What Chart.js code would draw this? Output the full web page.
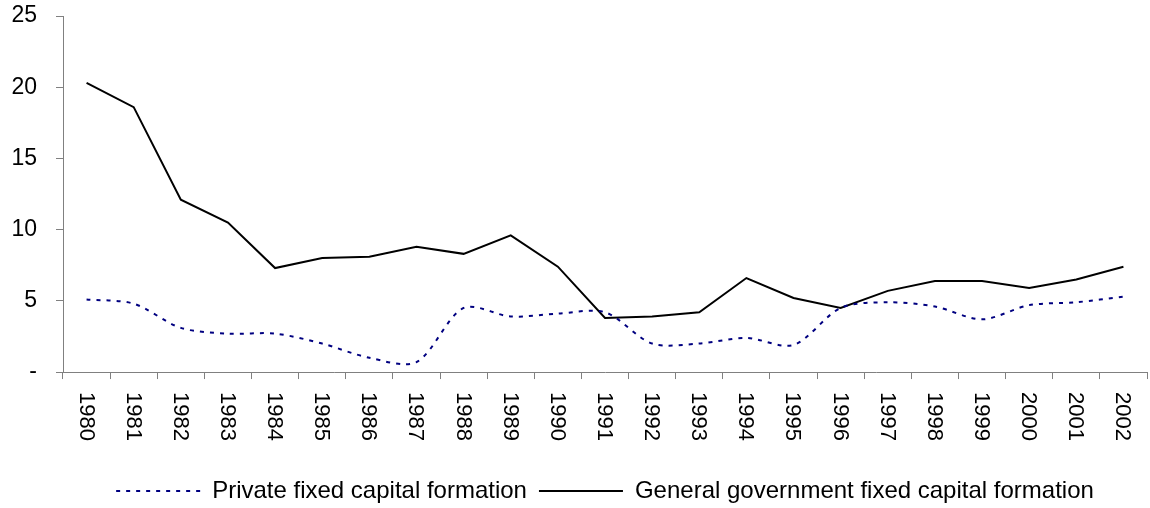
<!DOCTYPE html>
<html>
<head>
<meta charset="utf-8">
<script src="https://cdn.jsdelivr.net/npm/chart.js@4/dist/chart.umd.min.js"></script>
<style>
  html, body { margin: 0; padding: 0; background: #fff; }
  #wrap { width: 1150px; height: 508px; position: relative; }
</style>
</head>
<body>
<div id="wrap"><canvas id="chart"></canvas></div>
<script>
// ── Data ───────────────────────────────────────────────
const years = ['1980', '1981', '1982', '1983', '1984', '1985', '1986', '1987',
  '1988', '1989', '1990', '1991', '1992', '1993', '1994', '1995', '1996',
  '1997', '1998', '1999', '2000', '2001', '2002'];
const privateFcf = [5.1, 4.8, 3.1, 2.7, 2.7, 2.0, 1.0, 0.7, 4.5, 3.9, 4.1, 4.2,
  2.0, 2.0, 2.4, 1.9, 4.5, 4.9, 4.6, 3.7, 4.7, 4.9, 5.3];
const governmentFcf = [20.3, 18.6, 12.1, 10.5, 7.3, 8.0, 8.1, 8.8, 8.3, 9.6, 7.4, 3.8,
  3.9, 4.2, 6.6, 5.2, 4.5, 5.7, 6.4, 6.4, 5.9, 6.5, 7.4];
const yTicks = [0, 5, 10, 15, 20, 25];

// ── Styles ─────────────────────────────────────────────
const _FONT  = "'Liberation Sans', Arial, sans-serif";
const _AXIS  = '#808080';
const _TICK_LEN = 7;

// x labels read top-to-bottom (rotated clockwise), which Chart.js can't do itself
const _xLabelPlugin = {
  id: 'xLabels',
  afterDraw(chart) {
    const xs = chart.scales.x;
    const { ctx } = chart;
    ctx.save();
    ctx.fillStyle = '#000';
    ctx.font = `22px ${_FONT}`;
    ctx.textAlign = 'left';
    ctx.textBaseline = 'middle';
    xs.ticks.forEach((t, i) => {
      const x = xs.getPixelForTick(i);
      ctx.save();
      ctx.translate(x, xs.top + _TICK_LEN + 13);
      ctx.rotate(Math.PI / 2);
      ctx.fillText(xs.getLabelForValue(t.value), 0, 1);
      ctx.restore();
    });
    ctx.restore();
  },
};

// legend with point style drops the dataset dash, put it back
function _legendLabels(chart) {
  const items = Chart.defaults.plugins.legend.labels.generateLabels(chart);
  items.forEach((it, i) => {
    const ds = chart.data.datasets[i];
    it.lineDash = ds.borderDash || [];
    it.lineWidth = ds.borderWidth;
    it.strokeStyle = ds.borderColor;
  });
  return items;
}

new Chart(document.getElementById('chart'), {
  type: 'line',
  data: {
    labels: years,
    datasets: [
      {
        label: 'Private fixed capital formation',
        data: privateFcf,
        borderColor: '#000080',
        backgroundColor: '#000080',
        borderWidth: 2,
        borderDash: [4, 6],
        tension: 0.3,
        pointRadius: 0,
      },
      {
        label: 'General government fixed capital formation',
        data: governmentFcf,
        borderColor: '#000',
        backgroundColor: '#000',
        borderWidth: 2,
        tension: 0,
        pointRadius: 0,
      },
    ],
  },
  options: {
    responsive: true,
    maintainAspectRatio: false,
    animation: false,
    layout: { padding: { left: 10, right: 3, top: 16, bottom: -5 } },
    scales: {
      x: {
        offset: true,
        grid: { offset: true, drawOnChartArea: false, color: _AXIS, tickLength: _TICK_LEN },
        border: { color: _AXIS, width: 1 },
        ticks: {
          color: 'rgba(0,0,0,0)',
          font: { family: _FONT, size: 22 },
          minRotation: 90, maxRotation: 90,
          padding: 13,
          autoSkip: false,
        },
        afterFit(scale) {
          scale.height += 13;
          scale.paddingLeft = 0;
          scale.paddingRight = 0;
        },
      },
      y: {
        min: 0, max: 25,
        afterBuildTicks(scale) { scale.ticks = yTicks.map(v => ({ value: v })); },
        grid: { drawOnChartArea: false, color: _AXIS, tickLength: _TICK_LEN },
        border: { color: _AXIS, width: 1 },
        ticks: {
          color: '#000',
          font: { family: _FONT, size: 23 },
          padding: 19,
          callback: v => (v === 0 ? '-' : v),
        },
        afterFit(scale) {
          scale.width = 53;
          scale.paddingTop = 0;
          scale.paddingBottom = 0;
        },
      },
    },
    plugins: {
      legend: {
        position: 'bottom',
        fullSize: false,
        labels: {
          color: '#000',
          font: { family: _FONT, size: 24 },
          usePointStyle: true,
          pointStyle: 'line',
          pointStyleWidth: 84,
          boxHeight: 2,
          padding: 12,
          generateLabels: _legendLabels,
        },
      },
      tooltip: { enabled: false },
    },
  },
  plugins: [_xLabelPlugin],
});
</script>
</body>
</html>
